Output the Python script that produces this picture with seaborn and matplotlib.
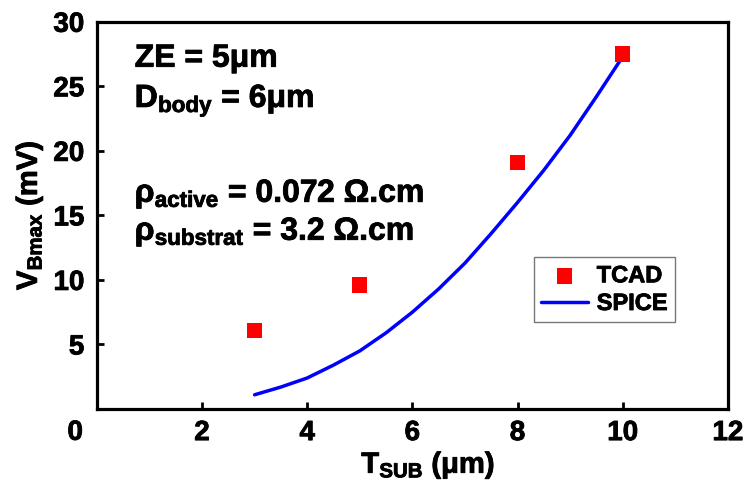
import matplotlib
matplotlib.use("Agg")
import matplotlib.pyplot as plt
import matplotlib.patheffects as pe
import seaborn as sns
import pandas as pd

# ---- Data -------------------------------------------------------------------
tcad_x = [3, 5, 8, 10]
tcad_y = [6.1, 9.6, 19.1, 27.5]

spice_x = [3.0, 3.5, 4.0, 4.5, 5.0, 5.5, 6.0, 6.5, 7.0, 7.5, 8.0, 8.5, 9.0, 9.5, 10.0]
spice_y = [1.1, 1.7, 2.4, 3.4, 4.5, 5.9, 7.5, 9.3, 11.3, 13.6, 16.0, 18.5, 21.2, 24.2, 27.3]

x_ticks = [0, 2, 4, 6, 8, 10, 12]
y_ticks = [0, 5, 10, 15, 20, 25, 30]

# ---- Style ------------------------------------------------------------------
sns.set_style("white")
plt.rcParams["font.family"] = ["Liberation Sans", "DejaVu Sans"]
plt.rcParams["font.weight"] = "bold"
plt.rcParams["text.color"] = "black"
plt.rcParams["axes.labelcolor"] = "black"
plt.rcParams["xtick.color"] = "black"
plt.rcParams["ytick.color"] = "black"
plt.rcParams["mathtext.fontset"] = "custom"
plt.rcParams["mathtext.rm"] = "Liberation Sans:bold"
plt.rcParams["mathtext.bf"] = "Liberation Sans:bold"
plt.rcParams["mathtext.it"] = "Liberation Sans:bold"
plt.rcParams["mathtext.default"] = "bf"

fig, ax = plt.subplots(figsize=(7.45, 4.84), dpi=100)
fig.subplots_adjust(left=0.130, right=0.977, top=0.955, bottom=0.155)

df_tcad = pd.DataFrame({"x": tcad_x, "y": tcad_y})
df_spice = pd.DataFrame({"x": spice_x, "y": spice_y})

sns.lineplot(data=df_spice, x="x", y="y", ax=ax, color="#0000ff", linewidth=2.5,
             label="SPICE", zorder=2)
sns.scatterplot(data=df_tcad, x="x", y="y", ax=ax, color="#ff0000", marker="s",
                s=120, edgecolor="none", label="TCAD", zorder=3)

ax.set_xlim(0, 12)
ax.set_ylim(0, 30)
ax.set_xticks(x_ticks)
ax.set_yticks(y_ticks)
ax.set_xticklabels([""] + [str(t) for t in x_ticks[1:]])
ax.set_yticklabels([""] + [str(t) for t in y_ticks[1:]])
ax.tick_params(direction="in", length=5, width=2, labelsize=20,
               top=False, right=False, left=True, bottom=True)
ax.tick_params(axis="y", pad=9)
ax.tick_params(axis="x", pad=8)
ax.text(-0.022, -0.028, "0", transform=ax.transAxes, fontsize=20,
        fontweight="bold", ha="right", va="top")

for sp in ax.spines.values():
    sp.set_linewidth(2.3)
    sp.set_color("black")

ax.set_xlabel(r"T$_{SUB}$ (μm)", fontsize=21, fontweight="bold", labelpad=2)
ax.set_ylabel(r"V$_{Bmax}$ (mV)", fontsize=21, fontweight="bold", labelpad=6)
ax.xaxis.label.set_x(0.525)

ann = dict(transform=ax.transAxes, fontsize=23, fontweight="bold", va="baseline")
ax.text(0.06, 0.884, "ZE = 5μm", **ann)
ax.text(0.06, 0.780, r"D$_{body}$ = 6μm", **ann)
ax.text(0.06, 0.535, r"ρ$_{active}$ = 0.072 Ω.cm", **ann)
ax.text(0.06, 0.437, r"ρ$_{substrat}$ = 3.2 Ω.cm", **ann)

handles, labels = ax.get_legend_handles_labels()
order = [labels.index("TCAD"), labels.index("SPICE")]
leg = ax.legend([handles[i] for i in order], [labels[i] for i in order],
                loc="upper left", bbox_to_anchor=(0.693, 0.392),
                fontsize=17, frameon=True, fancybox=False, edgecolor="#555555",
                handlelength=2.0, handletextpad=0.35, borderpad=0.3,
                labelspacing=0.2, borderaxespad=0)
leg.get_frame().set_linewidth(1.0)
for t in leg.get_texts():
    t.set_fontweight("bold")

# slightly heavier strokes, like the original bold Arial
for t in fig.findobj(matplotlib.text.Text):
    t.set_path_effects([pe.withStroke(linewidth=0.6, foreground="black")])

fig.savefig("out.png", dpi=100)
